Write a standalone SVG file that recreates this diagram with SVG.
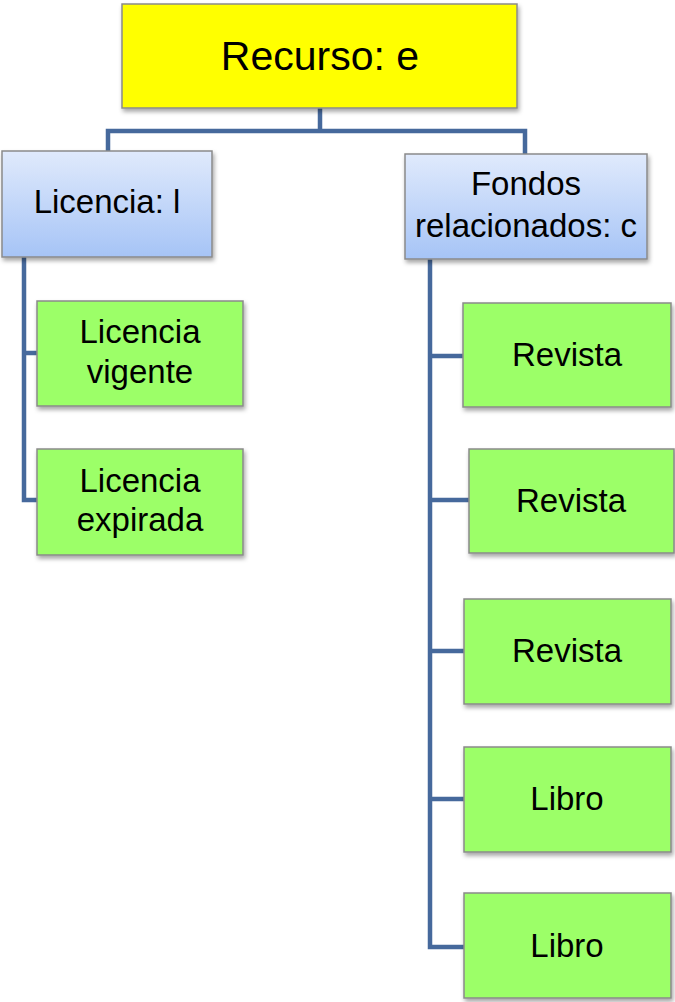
<svg xmlns="http://www.w3.org/2000/svg" width="675" height="1002" viewBox="0 0 675 1002">
  <defs>
    <linearGradient id="blueGrad" x1="0" y1="0" x2="0" y2="1">
      <stop offset="0" stop-color="#e0eafc"/>
      <stop offset="1" stop-color="#a6c4f6"/>
    </linearGradient>
    <filter id="shadow" x="-10%" y="-10%" width="125%" height="130%">
      <feDropShadow dx="1.5" dy="3" stdDeviation="2" flood-color="#000" flood-opacity="0.35"/>
    </filter>
  </defs>
  <style>
    .box { stroke: #8a8a8a; stroke-width: 1.5; filter: url(#shadow); }
    .root { fill: #ffff00; }
    .mid { fill: url(#blueGrad); }
    .leaf { fill: #9cff68; }
    .lbl { font-family: "Liberation Sans", Arial, sans-serif; font-size: 33px; fill: #000; text-anchor: middle; }
    .big { font-size: 41px; }
    .conn { fill: none; stroke: #46699c; stroke-width: 4.5; stroke-linejoin: miter; }
  </style>
  <rect width="675" height="1002" fill="#ffffff"/>

  <g id="connectors">
    <path class="conn" d="M320 108 V131 M108 151 V131 H525 V154"/>
    <path class="conn" d="M24 257 V500 H38 M24 353 H38"/>
    <path class="conn" d="M430 259 V947 H464 M430 356 H464 M430 500 H470 M430 651 H464 M430 799 H464"/>
  </g>

  <g id="recurso">
    <rect class="box root" x="122" y="4" width="395" height="104"/>
    <text class="lbl big" x="320" y="70">Recurso: e</text>
  </g>

  <g id="licencia">
    <rect class="box mid" x="2" y="151" width="210" height="106"/>
    <text class="lbl" x="107" y="213">Licencia: l</text>
  </g>

  <g id="fondos">
    <rect class="box mid" x="405" y="154" width="242" height="105"/>
    <text class="lbl" x="526" y="195">Fondos</text>
    <text class="lbl" x="526" y="237">relacionados: c</text>
  </g>

  <g id="licencia-vigente">
    <rect class="box leaf" x="37" y="301" width="206" height="105"/>
    <text class="lbl" x="140" y="343">Licencia</text>
    <text class="lbl" x="140" y="383">vigente</text>
  </g>

  <g id="licencia-expirada">
    <rect class="box leaf" x="37" y="449" width="206" height="106"/>
    <text class="lbl" x="140" y="492">Licencia</text>
    <text class="lbl" x="140" y="531">expirada</text>
  </g>

  <g id="revista-1">
    <rect class="box leaf" x="463" y="303" width="208" height="104"/>
    <text class="lbl" x="567" y="366">Revista</text>
  </g>

  <g id="revista-2">
    <rect class="box leaf" x="469" y="449" width="205" height="104"/>
    <text class="lbl" x="571" y="512">Revista</text>
  </g>

  <g id="revista-3">
    <rect class="box leaf" x="464" y="599" width="207" height="105"/>
    <text class="lbl" x="567" y="662">Revista</text>
  </g>

  <g id="libro-1">
    <rect class="box leaf" x="464" y="747" width="207" height="105"/>
    <text class="lbl" x="567" y="810">Libro</text>
  </g>

  <g id="libro-2">
    <rect class="box leaf" x="464" y="893" width="207" height="105"/>
    <text class="lbl" x="567" y="957">Libro</text>
  </g>
</svg>
